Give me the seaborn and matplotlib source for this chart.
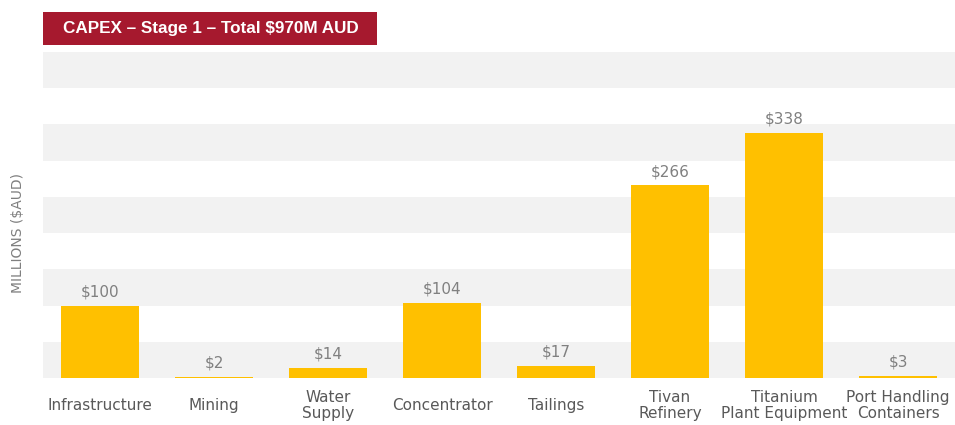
import pandas as pd
import matplotlib.pyplot as plt
import seaborn as sns
from matplotlib.patches import Rectangle

# 数据
categories = ["Infrastructure", "Mining", "Water\nSupply", "Concentrator", "Tailings",
              "Tivan\nRefinery", "Titanium\nPlant Equipment", "Port Handling\nContainers"]
values = [100, 2, 14, 104, 17, 266, 338, 3]
value_labels = ["$100", "$2", "$14", "$104", "$17", "$266", "$338", "$3"]
title = "CAPEX \u2013 Stage 1 \u2013 Total $970M AUD"
ylabel = "MILLIONS ($AUD)"

df = pd.DataFrame({"category": categories, "value": values})

sns.set_theme(style="white")
plt.rcParams["font.family"] = ["DejaVu Sans"]

fig = plt.figure(figsize=(9.55, 4.25), dpi=100)
ax = fig.add_axes([43 / 955, 1 - 378 / 425, 912 / 955, 326 / 425])

# 交替灰色背景带
grid = list(range(0, 451, 50))
for i in range(len(grid) - 1):
    if i % 2 == 0:
        ax.axhspan(grid[i], grid[i + 1], color="#F2F2F2", lw=0, zorder=0)

sns.barplot(data=df, x="category", y="value", color="#FFC000", width=0.68,
            saturation=1, linewidth=0, ax=ax, zorder=2)

for i, (v, lab) in enumerate(zip(values, value_labels)):
    ax.annotate(lab, (i, v), xytext=(0, 4.5), textcoords="offset points",
                ha="center", va="bottom", fontsize=11, color="#808080")

ax.set_ylim(0, 450)
ax.set_xlim(-0.5, len(categories) - 0.5)
ax.set_yticks([])
ax.set_xlabel("")
ax.set_ylabel("")
for s in ax.spines.values():
    s.set_visible(False)
ax.tick_params(axis="x", length=0, pad=20, labelsize=11, labelcolor="#595959")
for t in ax.get_xticklabels():
    t.set_va("center")
    t.set_linespacing(1.1)

fig.text(18 / 955, 1 - 233 / 425, ylabel, rotation=90, ha="center", va="center",
         fontsize=10, color="#7F7F7F")

# 标题框
fig.patches.append(Rectangle((43 / 955, 1 - 45 / 425), 334 / 955, 33 / 425,
                             transform=fig.transFigure, facecolor="#A6192E",
                             edgecolor="none", zorder=3))
fig.text(63 / 955, 1 - 29 / 425, title, ha="left", va="center", fontsize=12.3,
         fontweight="bold", color="white",
         family=["Liberation Sans Narrow", "Liberation Sans"], zorder=4)

fig.savefig("out.png", dpi=100)
